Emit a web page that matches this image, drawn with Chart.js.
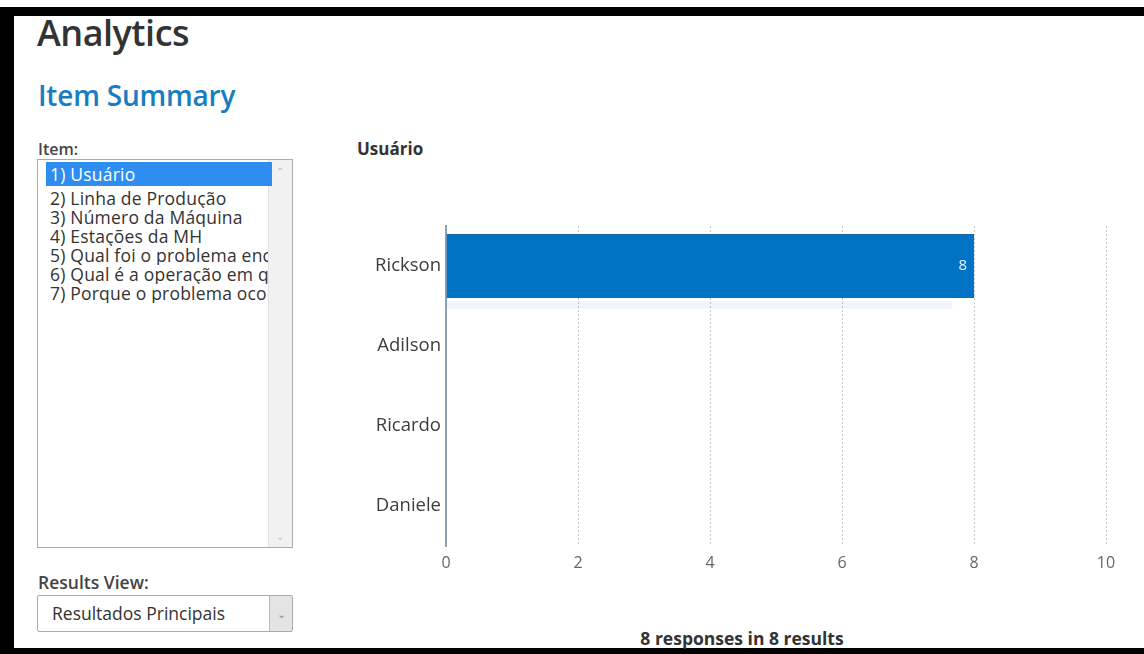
<!DOCTYPE html>
<html>
<head>
<meta charset="utf-8">
<script src="https://cdn.jsdelivr.net/npm/chart.js@4"></script>
<style>
    body { margin: 0; width: 1144px; height: 654px; background: #fff; font-family: "Open Sans", sans-serif; color: #333; position: relative; overflow: hidden; }
    .frame-top { position: absolute; left: 0; top: 7px; width: 1144px; height: 9px; background: #000; }
    .frame-left { position: absolute; left: 0; top: 7px; width: 14px; height: 647px; background: #000; }
    .frame-bottom { position: absolute; left: 0; top: 648px; width: 1144px; height: 6px; background: #000; }
    .abs { position: absolute; white-space: nowrap; }
    h1 { position: absolute; left: 37px; top: 8px; margin: 0; font-size: 36px; font-weight: 600; color: #333; letter-spacing: -0.5px; }
    h2 { position: absolute; left: 38px; top: 76px; margin: 0; font-size: 28px; font-weight: 600; color: #1a7dc0; letter-spacing: -0.2px; }
    .lbl { font-size: 16px; font-weight: 600; color: #444; }
    .listbox { position: absolute; left: 37px; top: 159px; width: 254px; height: 387px; border: 1px solid #aaa; overflow: hidden; }
    .listbox .opt { position: absolute; left: 12px; width: 218px; font-size: 17.5px; line-height: 19px; color: #333; white-space: nowrap; overflow: hidden; letter-spacing: 0.2px; }
    .listbox .sel { background: #2f8cf0; color: #fff; left: 8px; width: 222px; padding-left: 4px; line-height: 24px; }
    .scroll { position: absolute; right: 0; top: 0; width: 23px; height: 387px; background: #f1f1f1; border-left: 1px solid #e2e2e2; }
    .scroll span { position: absolute; left: 7px; font-size: 10px; color: #bbb; }
    .select { position: absolute; left: 37px; top: 595px; width: 254px; height: 35px; border: 1px solid #aaa; border-radius: 2px; font-size: 17.5px; line-height: 35px; }
    .select .btn { position: absolute; right: 0; top: 0; width: 22px; height: 35px; background: #e4e4e4; border-left: 1px solid #bbb; text-align: center; color: #888; font-size: 11px; }
    #chart { position: absolute; left: 340px; top: 206px; }
</style>
</head>
<body>
<div class="frame-top"></div>
<div class="frame-left"></div>
<div class="frame-bottom"></div>

<h1>Analytics</h1>
<h2>Item Summary</h2>

<div class="abs lbl" style="left:38px; top:138px;">Item:</div>
<div class="listbox" id="items">
    <div class="scroll"><span style="top:4px;">&#8963;</span><span style="bottom:4px;">&#8964;</span></div>
</div>

<div class="abs lbl" style="left:38px; top:570px; font-size:17.5px;">Results View:</div>
<div class="select"><span style="padding-left:14px;">Resultados Principais</span><div class="btn">&#8964;</div></div>

<div class="abs" style="left:357px; top:137px; font-size:17px; font-weight:700; color:#333;">Usuário</div>
<canvas id="chart" width="804" height="380"></canvas>
<div class="abs" style="left:0; width:1484px; top:626px; text-align:center; font-size:17.5px; font-weight:700; color:#333;">8 responses in 8 results</div>

<script>
const itemNames = ['1) Usuário', '2) Linha de Produção', '3) Número da Máquina', '4) Estações da MH',
    '5) Qual foi o problema encontrado', '6) Qual é a operação em que', '7) Porque o problema ocorreu'];
const users = ['Rickson', 'Adilson', 'Ricardo', 'Daniele'];
const responses = [8, 0, 0, 0];
const xTicks = [0, 2, 4, 6, 8, 10];

// list of items on the left
const list = document.getElementById('items');
itemNames.forEach((name, i) => {
    const d = document.createElement('div');
    d.className = 'opt' + (i === 0 ? ' sel' : '');
    d.style.top = (i === 0 ? 2 : 29 + (i - 1) * 19) + 'px';
    d.textContent = name;
    list.appendChild(d);
});

// faint band under bars + white value labels at bar end
const barExtras = {
    id: 'barExtras',
    beforeDatasetsDraw(chart) {
        const ctx = chart.ctx;
        chart.getDatasetMeta(0).data.forEach((bar, i) => {
            if (!responses[i]) return;
            ctx.save();
            ctx.fillStyle = 'rgba(0, 110, 190, 0.06)';
            ctx.fillRect(bar.base, bar.y + bar.height / 2 + 3, (bar.x - bar.base) - 22, 8);
            ctx.restore();
        });
    },
    afterDatasetsDraw(chart) {
        const ctx = chart.ctx;
        chart.getDatasetMeta(0).data.forEach((bar, i) => {
            if (!responses[i]) return;
            ctx.save();
            ctx.fillStyle = '#e8f2fb';
            ctx.font = '15px "Open Sans"';
            ctx.textAlign = 'right';
            ctx.textBaseline = 'middle';
            ctx.fillText(String(responses[i]), bar.x - 7, bar.y);
            ctx.restore();
        });
    }
};

new Chart(document.getElementById('chart'), {
    type: 'bar',
    data: {
        labels: users,
        datasets: [{
            data: responses,
            backgroundColor: '#0073c4',
            borderColor: '#1d6aa5',
            borderWidth: { top: 1, bottom: 1, left: 0, right: 1 },
            borderSkipped: false,
            categoryPercentage: 0.8,
            barPercentage: 1.0
        }]
    },
    options: {
        indexAxis: 'y',
        responsive: false,
        animation: false,
        layout: { padding: { top: 20, right: 38, left: 0, bottom: 0 } },
        plugins: { legend: { display: false }, tooltip: { enabled: false } },
        scales: {
            x: {
                min: 0,
                max: 10,
                afterBuildTicks: axis => { axis.ticks = xTicks.map(v => ({ value: v })); },
                afterFit: axis => { axis.height = 40; },
                grid: { color: '#c8c8c8', drawTicks: false },
                border: { display: false, dash: [2, 2] },
                ticks: { color: '#666', padding: 8, font: { family: 'Open Sans', size: 16 } }
            },
            y: {
                afterFit: axis => { axis.width = 106; },
                grid: { display: false, drawTicks: false },
                border: { display: true, color: '#8aa0b6', width: 2 },
                ticks: { color: '#3c3c3c', padding: 5, font: { family: 'Open Sans', size: 18.5 } }
            }
        }
    },
    plugins: [barExtras]
});
</script>
</body>
</html>
